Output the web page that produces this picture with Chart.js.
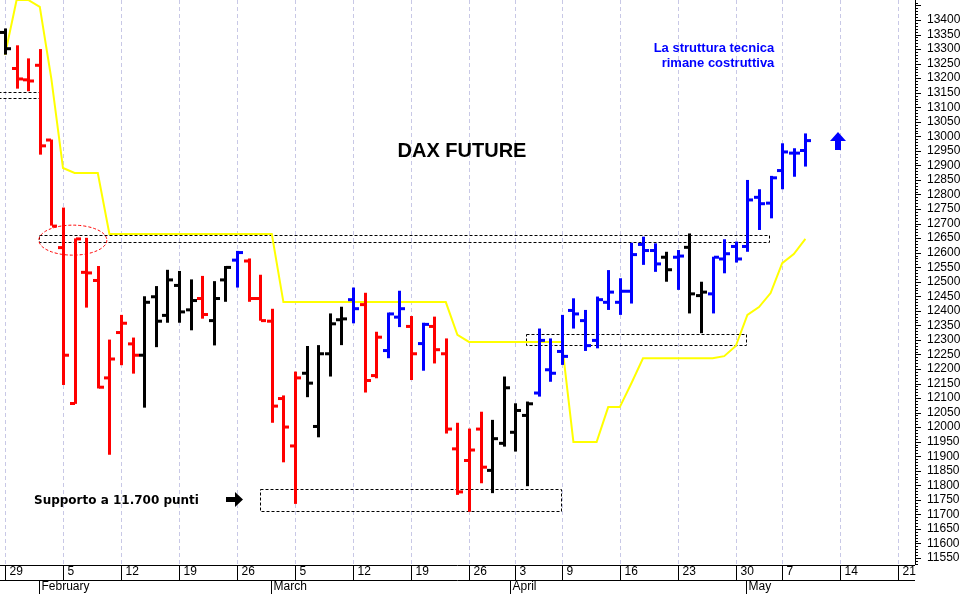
<!DOCTYPE html>
<html><head><meta charset="utf-8">
<script src="https://cdn.jsdelivr.net/npm/chart.js@4/dist/chart.umd.min.js"></script>
<style>html,body{margin:0;padding:0;background:#fff}#w{width:964px;height:594px}</style>
</head><body><div id="w"><canvas id="c"></canvas></div>
<script>
const openV=[13359,13235,13196,13246,12989,12619,12083,12534,12506,12171,12327,12288,12249,12450,12386,12489,12405,12444,12368,12508,12576,12573,12444,12366,12100,11937,12187,12004,12254,12371,12440,12423,12179,12265,12380,12348,12289,12348,12254,11927,11887,11995,11853,11946,11984,12042,12119,12199,12262,12403,12368,12300,12431,12431,12469,12630,12609,12586,12586,12620,12454,12460,12580,12623,12623,12792,12772,12884,12944,12953];
const highV=[13371,13313,13268,13300,12989,12755,12649,12651,12554,12301,12386,12308,12450,12485,12541,12537,12508,12520,12502,12554,12606,12580,12524,12407,12109,12191,12279,12282,12391,12414,12480,12462,12328,12394,12469,12382,12359,12380,12305,12015,11995,12053,12025,12174,12082,12088,12339,12305,12386,12443,12403,12449,12540,12512,12634,12655,12632,12603,12609,12666,12500,12586,12646,12638,12850,12818,12864,12976,12959,13010];
const lowV=[13281,13164,13155,12937,12693,12145,12080,12411,12133,11905,12213,12184,12067,12275,12359,12359,12333,12373,12281,12431,12480,12431,12366,12015,11879,11736,12103,11965,12174,12282,12357,12119,12168,12237,12344,12162,12194,12219,11978,11767,11709,11807,11773,11933,11916,11797,12105,12156,12214,12339,12262,12271,12403,12386,12425,12558,12534,12500,12472,12391,12323,12391,12529,12566,12603,12678,12718,12818,12861,12896];
const closeV=[13303,13199,13192,12969,12693,12249,12649,12532,12139,12236,12359,12249,12431,12366,12508,12398,12437,12389,12444,12551,12602,12444,12368,12074,12002,12171,12153,12254,12357,12374,12409,12162,12311,12391,12409,12254,12355,12268,11995,11779,11923,11864,11962,12137,12059,12082,12300,12187,12245,12391,12282,12440,12466,12469,12595,12609,12563,12543,12590,12460,12466,12586,12598,12580,12783,12770,12859,12948,12944,12987];
const barColor="KRRRRRRRRRRRKKKKKRKKBRRRRRKKKKBRRBBRBRRRRRKKKKBBBBBBBBBBBKBKKBBBBBBBBB";
const stopV=[13280,13469,13469,13445,13197,12891,12874,12874,12874,12664,12664,12664,12664,12664,12664,12664,12664,12664,12664,12664,12664,12664,12664,12664,12430,12430,12430,12430,12430,12430,12430,12430,12430,12430,12430,12430,12430,12430,12430,12317,12293,12293,12293,12293,12293,12293,12293,12293,12293,11949,11949,11949,12069,12069,12151,12237,12237,12237,12237,12237,12237,12237,12244,12279,12386,12413,12461,12564,12595,12647];
const yTicks=[];for(let v=11550;v<=13400;v+=50)yTicks.push(v);
const xTickIdx=[0,5,10,15,20,25,30,35,40,44,48,53,58,63,67,72,77];
const xTickLab=["29","5","12","19","26","5","12","19","26","3","9","16","23","30","7","14","21"];
const monthIdx=[2.95,22.95,43.5,63.9];
const monthLab=["February","March","April","May"];
const boxes=[[-1,3,13151,13129],[2.95,65.9,12661,12637],[44.9,63.9,12319,12280],[21.95,47.9,11787,11712]];

const COLORS={K:"#000000",R:"#ff0000",B:"#0000ff"};
const draw={id:'draw',
 beforeDatasetsDraw(ch){const c=ch.ctx,x=ch.scales.x,y=ch.scales.y,a=ch.chartArea;
  c.save();c.strokeStyle="#c8c8e6";c.lineWidth=1;c.setLineDash([4,3]);
  xTickIdx.forEach(i=>{const px=Math.round(x.getPixelForValue(i))+0.5;c.beginPath();c.moveTo(px,a.top);c.lineTo(px,a.bottom);c.stroke();});
  c.setLineDash([3,2]);c.strokeStyle="#000";
  boxes.forEach(b=>{const x1=x.getPixelForValue(b[0]),x2=x.getPixelForValue(b[1]),y1=y.getPixelForValue(b[2]),y2=y.getPixelForValue(b[3]);c.strokeRect(Math.round(x1)+.5,Math.round(y1)+.5,Math.round(x2-x1),Math.round(y2-y1));});
  c.strokeStyle="#ff0000";c.beginPath();c.ellipse(x.getPixelForValue(5.85),y.getPixelForValue(12643),34,15,0,0,Math.PI*2);c.stroke();
  c.restore();},
 afterDatasetsDraw(ch){const c=ch.ctx,x=ch.scales.x,y=ch.scales.y,a=ch.chartArea;
  c.save();
  for(let i=0;i<highV.length;i++){const px=Math.round(x.getPixelForValue(i));c.fillStyle=COLORS[barColor[i]];
   const yh=y.getPixelForValue(highV[i]),yl=y.getPixelForValue(lowV[i]),yo=y.getPixelForValue(openV[i]),yc=y.getPixelForValue(closeV[i]);
   c.fillRect(px-1,yh,3,yl-yh);c.fillRect(px-5,yo-1,5,3);c.fillRect(px+1,yc-1,5,3);}
  c.fillStyle="#000";c.strokeStyle="#000";c.lineWidth=1;
  c.beginPath();c.moveTo(a.right+0.5,0);c.lineTo(a.right+0.5,a.bottom);c.moveTo(0,a.bottom+0.5);c.lineTo(a.right,a.bottom+0.5);c.moveTo(0,580.5);c.lineTo(a.right,580.5);c.stroke();
  c.beginPath();for(let v=11530;v<=13460;v+=10){const py=Math.round(y.getPixelForValue(v))+0.5;c.moveTo(a.right,py);c.lineTo(a.right+(v%50===0?6:3),py);}c.stroke();
  c.font="12px 'Liberation Sans', Arial";c.textBaseline="middle";c.textAlign="left";
  yTicks.forEach(v=>c.fillText(String(v),a.right+12,y.getPixelForValue(v)));
  c.textBaseline="top";
  c.beginPath();xTickIdx.forEach((i,k)=>{const px=Math.round(x.getPixelForValue(i))+0.5;c.moveTo(px,a.bottom);c.lineTo(px,580);c.fillText(xTickLab[k],px+4,566);});
  monthIdx.forEach((i,k)=>{const px=Math.round(x.getPixelForValue(i))+0.5;c.moveTo(px,580);c.lineTo(px,594);c.fillText(monthLab[k],px+2,581);});
  c.stroke();
  c.font="bold 20px 'Liberation Sans', Arial";c.textAlign="center";c.textBaseline="middle";c.fillText("DAX FUTURE",462,151);
  c.fillStyle="#0000ff";c.font="bold 13px 'Liberation Sans', Arial";c.fillText("La struttura tecnica",714,48);c.fillText("rimane costruttiva",718,63);
  c.fillStyle="#000";c.font="bold 12px 'DejaVu Sans', sans-serif";c.textAlign="left";c.fillText("Supporto a 11.700 punti",34,501);
  c.beginPath();c.moveTo(226,497);c.lineTo(235,497);c.lineTo(235,492);c.lineTo(243,499.5);c.lineTo(235,507);c.lineTo(235,502);c.lineTo(226,502);c.closePath();c.fill();
  c.fillStyle="#0000ff";c.beginPath();c.moveTo(838,132);c.lineTo(846,141);c.lineTo(841,141);c.lineTo(841,150);c.lineTo(835,150);c.lineTo(835,141);c.lineTo(830,141);c.closePath();c.fill();
  c.restore();}};

new Chart(document.getElementById('c'),{type:'line',
 data:{datasets:[{data:stopV.map((v,i)=>({x:i,y:v})),borderColor:"#ffff00",borderWidth:2,pointRadius:0,tension:0}]},
 options:{responsive:true,maintainAspectRatio:false,animation:false,
  layout:{padding:{left:0,right:49,top:0,bottom:29}},
  plugins:{legend:{display:false},tooltip:{enabled:false}},
  scales:{x:{type:'linear',min:-5/11.6,max:910/11.6,display:false},
          y:{min:11525.9,max:13468.8,display:false}}},
 plugins:[draw]});
</script></body></html>
